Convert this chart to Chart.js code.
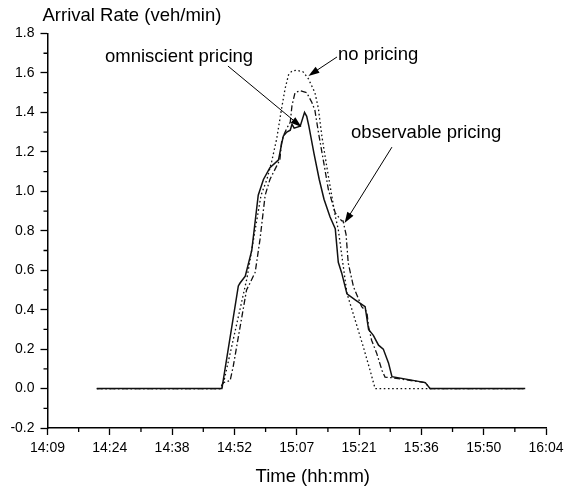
<!DOCTYPE html>
<html>
<head>
<meta charset="utf-8">
<style>
html,body{margin:0;padding:0;background:#fff;}
#wrap{width:570px;height:491px;position:relative;}
</style>
<script src="https://cdn.jsdelivr.net/npm/chart.js@4.4.0/dist/chart.umd.min.js"></script>
</head>
<body>
<div id="wrap"><canvas id="c" width="570" height="491"></canvas></div>
<script>
// ---- data (time in minutes after midnight, rate in veh/min) ----
const omniscientTime = [861.0, 889.9, 890.2, 893.7, 894.1, 895.3, 896.8, 898.3, 899.5, 901.0, 903.0, 903.7, 904.1, 904.9, 905.7, 906.1, 906.6, 908.0, 909.0, 909.5, 910.0, 911.2, 912.4, 913.5, 914.9, 916.1, 916.8, 917.6, 918.8, 920.7, 923.0, 923.8, 924.9, 926.1, 927.2, 928.4, 929.2, 936.9, 938.0, 960.0];
const omniscientRate = [0, 0, 0.04, 0.52, 0.535, 0.57, 0.70, 0.98, 1.06, 1.12, 1.16, 1.24, 1.28, 1.30, 1.31, 1.34, 1.32, 1.33, 1.40, 1.38, 1.33, 1.19, 1.06, 0.96, 0.87, 0.81, 0.64, 0.585, 0.48, 0.45, 0.415, 0.30, 0.27, 0.22, 0.20, 0.13, 0.06, 0.03, 0, 0];

const observableTime = [861.0, 889.5, 890.2, 891.8, 892.5, 895.6, 896.4, 897.6, 898.7, 899.9, 901.0, 902.6, 903.3, 903.7, 904.1, 904.9, 905.7, 906.1, 906.8, 908.0, 909.5, 910.7, 911.4, 912.2, 913.4, 914.5, 916.1, 917.6, 917.9, 918.6, 919.1, 920.3, 922.2, 923.4, 923.8, 924.5, 925.7, 926.9, 927.6, 929.2, 936.9, 938.0, 960.0];
const observableRate = [0, 0, 0.03, 0.04, 0.11, 0.50, 0.535, 0.59, 0.755, 0.98, 1.06, 1.13, 1.16, 1.25, 1.28, 1.32, 1.35, 1.435, 1.50, 1.51, 1.50, 1.45, 1.41, 1.30, 1.15, 1.01, 0.89, 0.85, 0.85, 0.78, 0.636, 0.517, 0.415, 0.389, 0.313, 0.245, 0.177, 0.092, 0.058, 0.055, 0.03, 0, 0];

const noPricingTime = [861.0, 889.9, 890.4, 895.7, 897.2, 898.95, 900.3, 901.4, 902.6, 903.7, 904.5, 905.3, 906.1, 907.2, 908.7, 909.9, 911.4, 912.2, 913.0, 914.1, 915.3, 916.1, 916.8, 918.8, 920.7, 922.6, 924.15, 925.3, 960.0];
const noPricingRate = [0, 0, 0.04, 0.56, 0.755, 0.98, 1.06, 1.15, 1.27, 1.42, 1.52, 1.59, 1.61, 1.614, 1.605, 1.57, 1.50, 1.42, 1.28, 1.13, 0.976, 0.874, 0.806, 0.483, 0.347, 0.21, 0.092, 0, 0];

// x ticks: Origin day-fraction ticks (0.59 ... 0.67 day)
const xTickDays = [0.59, 0.60, 0.61, 0.62, 0.63, 0.64, 0.65, 0.66, 0.67];
const xTickLabels = ['14:09', '14:24', '14:38', '14:52', '15:07', '15:21', '15:36', '15:50', '16:04'];
const yTickLabels = ['-0.2', '0.0', '0.2', '0.4', '0.6', '0.8', '1.0', '1.2', '1.4', '1.6', '1.8'];

const yTitle = 'Arrival Rate (veh/min)';
const xTitle = 'Time (hh:mm)';

// annotation texts and arrows (data coordinates)
const annotations = [
  {text: 'omniscient pricing', tx: 880.0, ty: 1.681, x1: 891.3, y1: 1.635, x2: 908.3, y2: 1.326},
  {text: 'no pricing', tx: 926.0, ty: 1.691, x1: 916.5, y1: 1.681, x2: 909.9, y2: 1.585},
  {text: 'observable pricing', tx: 937.1, ty: 1.296, x1: 929.2, y1: 1.224, x2: 918.25, y2: 0.839}
];

const FONT = '"Liberation Sans", Arial, Helvetica, sans-serif';
const zip = (t, r) => t.map((v, i) => ({x: v, y: r[i]}));
const xMajor = xTickDays.map(d => d * 1440);
const yMajor = yTickLabels.map(Number);

function labelFor(v, majors, labels) {
  for (let i = 0; i < majors.length; i++) if (Math.abs(majors[i] - v) < 1e-6) return labels[i];
  return '';
}
function withMinor(majors) {
  const t = [];
  for (let i = 0; i < majors.length; i++) {
    t.push({value: majors[i]});
    if (i < majors.length - 1) t.push({value: (majors[i] + majors[i + 1]) / 2});
  }
  return t;
}

const overlay = {
  id: 'overlay',
  afterDraw(chart) {
    const {ctx, chartArea, scales: {x, y}} = chart;
    ctx.save();
    // minor ticks (shorter)
    ctx.strokeStyle = '#000';
    ctx.lineWidth = 1.3;
    ctx.beginPath();
    x.ticks.forEach(t => {
      if (labelFor(t.value, xMajor, xTickLabels) === '') {
        const px = x.getPixelForValue(t.value);
        ctx.moveTo(px, chartArea.bottom);
        ctx.lineTo(px, chartArea.bottom + 4);
      }
    });
    y.ticks.forEach(t => {
      if (labelFor(t.value, yMajor, yTickLabels) === '') {
        const py = y.getPixelForValue(t.value);
        ctx.moveTo(chartArea.left, py);
        ctx.lineTo(chartArea.left - 4, py);
      }
    });
    ctx.stroke();

    ctx.fillStyle = '#000';
    ctx.font = '18.5px ' + FONT;
    ctx.textAlign = 'left';
    ctx.textBaseline = 'alphabetic';
    ctx.fillText(yTitle, chartArea.left - 5, chartArea.top - 13);
    ctx.textAlign = 'center';
    ctx.textBaseline = 'middle';
    ctx.fillText(xTitle, (chartArea.left + chartArea.right) / 2 + 16, chartArea.bottom + 49);
    annotations.forEach(a => {
      ctx.fillText(a.text, x.getPixelForValue(a.tx), y.getPixelForValue(a.ty));
      const px1 = x.getPixelForValue(a.x1), py1 = y.getPixelForValue(a.y1);
      const px2 = x.getPixelForValue(a.x2), py2 = y.getPixelForValue(a.y2);
      const ang = Math.atan2(py2 - py1, px2 - px1);
      const L = 11, W = 3.6;
      ctx.lineWidth = 1;
      ctx.beginPath();
      ctx.moveTo(px1, py1);
      ctx.lineTo(px2 - Math.cos(ang) * L * 0.8, py2 - Math.sin(ang) * L * 0.8);
      ctx.stroke();
      const bx = px2 - Math.cos(ang) * L, by = py2 - Math.sin(ang) * L;
      ctx.beginPath();
      ctx.moveTo(px2, py2);
      ctx.lineTo(bx + Math.sin(ang) * W, by - Math.cos(ang) * W);
      ctx.lineTo(bx - Math.sin(ang) * W, by + Math.cos(ang) * W);
      ctx.closePath();
      ctx.fill();
    });
    ctx.restore();
  }
};

const majorTickColor = (majors, labels) => c => (c.tick && labelFor(c.tick.value, majors, labels) !== '') ? '#000' : 'rgba(0,0,0,0)';

new Chart(document.getElementById('c'), {
  type: 'line',
  data: {
    datasets: [
      {label: 'no pricing', data: zip(noPricingTime, noPricingRate), borderColor: '#111', borderWidth: 1.3, borderDash: [1.6, 2.6], pointRadius: 0, tension: 0},
      {label: 'observable pricing', data: zip(observableTime, observableRate), borderColor: '#111', borderWidth: 1.3, borderDash: [6, 2.5, 1.6, 2.5], pointRadius: 0, tension: 0},
      {label: 'omniscient pricing', data: zip(omniscientTime, omniscientRate), borderColor: '#111', borderWidth: 1.5, pointRadius: 0, tension: 0}
    ]
  },
  options: {
    responsive: false,
    animation: false,
    devicePixelRatio: 1,
    layout: {padding: {top: 33.5, right: 24, left: 0, bottom: 0}},
    plugins: {legend: {display: false}, tooltip: {enabled: false}, title: {display: false}},
    scales: {
      x: {
        type: 'linear',
        min: xMajor[0],
        max: xMajor[xMajor.length - 1],
        afterBuildTicks(scale) { scale.ticks = withMinor(xMajor); },
        afterFit(scale) { scale.height = 63; },
        ticks: {
          autoSkip: false, maxRotation: 0, minRotation: 0, padding: 5, color: '#000',
          font: {size: 14, family: FONT},
          callback: v => labelFor(v, xMajor, xTickLabels)
        },
        grid: {drawOnChartArea: false, drawTicks: true, tickLength: 7, color: '#000', tickWidth: 1.3,
               tickColor: majorTickColor(xMajor, xTickLabels)},
        border: {display: true, color: '#000', width: 1.5}
      },
      y: {
        type: 'linear',
        min: yMajor[0],
        max: yMajor[yMajor.length - 1],
        afterBuildTicks(scale) { scale.ticks = withMinor(yMajor); },
        afterFit(scale) { scale.width = 47.5; },
        ticks: {
          autoSkip: false, padding: 6, color: '#000',
          font: {size: 14, family: FONT},
          callback: v => labelFor(v, yMajor, yTickLabels)
        },
        grid: {drawOnChartArea: false, drawTicks: true, tickLength: 7, color: '#000', tickWidth: 1.3,
               tickColor: majorTickColor(yMajor, yTickLabels)},
        border: {display: true, color: '#000', width: 1.5}
      }
    }
  },
  plugins: [overlay]
});
</script>
</body>
</html>
